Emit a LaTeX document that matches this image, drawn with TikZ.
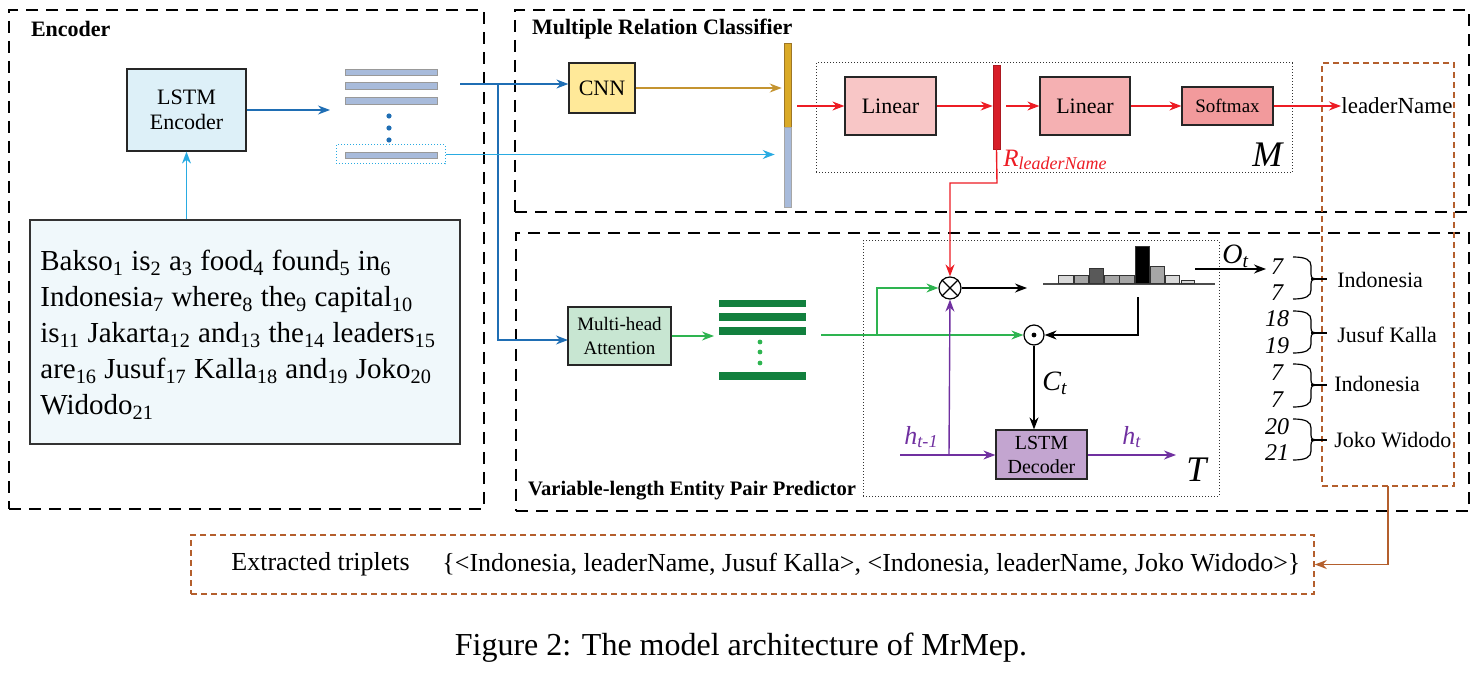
\documentclass[tikz,border=0pt]{standalone}
\usepackage{fontspec}
\setmainfont{Liberation Serif}
\usetikzlibrary{arrows.meta,fit,calc}
\definecolor{dblue}{RGB}{31,110,180}
\definecolor{lblue}{RGB}{41,171,226}
\definecolor{gold}{RGB}{196,148,48}
\definecolor{goldbar}{RGB}{218,170,40}
\definecolor{barblue}{RGB}{168,187,219}
\definecolor{rred}{RGB}{237,28,36}
\definecolor{rbarc}{RGB}{215,30,40}
\definecolor{ggreen}{RGB}{46,180,80}
\definecolor{dgreen}{RGB}{18,128,62}
\definecolor{ppurple}{RGB}{112,48,160}
\definecolor{bbrown}{RGB}{180,95,45}
\definecolor{encfill}{RGB}{221,240,248}
\definecolor{sentfill}{RGB}{240,248,251}
\definecolor{cnnfill}{RGB}{255,233,153}
\definecolor{linAfill}{RGB}{248,198,198}
\definecolor{linBfill}{RGB}{245,176,178}
\definecolor{smfill}{RGB}{242,154,156}
\definecolor{mhafill}{RGB}{200,230,210}
\definecolor{decfill}{RGB}{195,165,208}
\newcommand{\myfs}[2]{\fontsize{#1}{#2}\selectfont}
\newcommand{\ebrace}[3]{%
  \draw[line width=0.6pt] (1293,#1) .. controls (1306,#1) and (1311,{#1+3}) .. (1311,{#1+9})
    -- (1311,{#2-5}) .. controls (1311,{#2-1}) and (1313,#2) .. (1316,#2)
    .. controls (1313,#2) and (1311,{#2+1}) .. (1311,{#2+5})
    -- (1311,{#3-9}) .. controls (1311,{#3-3}) and (1306,#3) .. (1293,#3);
  \draw[line width=0.6pt] (1311,#2) -- (1327,#2);
}
\tikzset{
  frame/.style={draw=black, line width=1.4pt, dash pattern=on 6pt off 4pt, inner sep=0pt},
  title/.style={anchor=west, font=\bfseries\myfs{11}{13}},
  blk/.style={draw=black!85, line width=0.6pt, inner sep=0pt, align=center, font=\myfs{11}{12.5}},
  arr/.style={-{Stealth[length=6pt,width=4.5pt]}, line width=0.7pt},
  ebar/.style={fill=barblue, draw=gray!80, line width=0.4pt, inner sep=0pt},
  gbar/.style={fill=dgreen, draw=dgreen, line width=0.3pt, inner sep=0pt},
  num/.style={font=\itshape\myfs{12}{14}, inner sep=0pt},
  ent/.style={anchor=west, font=\myfs{11}{13}, inner sep=0pt},
}
\begin{document}
\begin{tikzpicture}[x=0.5pt,y=-0.5pt]
\useasboundingbox (0,0) rectangle (1474,674);

% frames
\node[frame, fit={(9,10)(484,509)}] (encF) {};
\node[frame, fit={(515,10)(1469,212)}] (mrcF) {};
\node[frame, fit={(516,233)(1469,511)}] (vepF) {};
\node[title] (encT) at (24,29) {Encoder};
\node[title] (mrcT) at (525,29) {Multiple Relation Classifier};
\node[title, font=\bfseries\myfs{10.3}{12}] (vepT) at (521,491) {Variable-length Entity Pair Predictor};

% inner dotted boxes
\node[draw=black!80, densely dotted, line width=0.5pt, fit={(816,63)(1292,173)}, inner sep=0pt] (Mbox) {};
\node[draw=black!80, densely dotted, line width=0.5pt, fit={(863,241)(1219,496)}, inner sep=0pt] (Tbox) {};
\node[draw=bbrown, line width=0.8pt, dash pattern=on 3pt off 2pt, fit={(1322,63)(1454,486)}, inner sep=0pt] (outbox) {};

% Encoder
\node[blk, fill=encfill, minimum width=59.5pt, minimum height=41pt] (lstmenc) at (186.5,110) {LSTM\\Encoder};
\node[draw=black!80, line width=0.6pt, fill=sentfill, fit={(30,220)(460,444)}, inner sep=0pt] (sent) {};
\node[anchor=north west, align=left, font=\myfs{14.5}{18}, inner sep=0pt] (senttext) at (40,250)
 {Bakso\textsubscript{1} is\textsubscript{2} a\textsubscript{3} food\textsubscript{4} found\textsubscript{5} in\textsubscript{6}\\
  Indonesia\textsubscript{7} where\textsubscript{8} the\textsubscript{9} capital\textsubscript{10}\\
  is\textsubscript{11} Jakarta\textsubscript{12} and\textsubscript{13} the\textsubscript{14} leaders\textsubscript{15}\\
  are\textsubscript{16} Jusuf\textsubscript{17} Kalla\textsubscript{18} and\textsubscript{19} Joko\textsubscript{20}\\
  Widodo\textsubscript{21}};
\node[ebar, fit={(345,69)(437,75)}] (eA) {};
\node[ebar, fit={(345,82)(437,89)}] (eB) {};
\node[ebar, fit={(345,97)(437,104)}] (eC) {};
\fill[dblue] (389,116) circle (1.3pt) (389,128) circle (1.3pt) (389,140) circle (1.3pt);
\node[ebar, fit={(345,152)(437,158)}] (eD) {};
\node[draw=lblue, densely dotted, line width=0.5pt, fit={(336,145)(445,164)}, inner sep=0pt] (elast) {};
\coordinate (stackin) at (330,110);
\draw[arr, dblue] (lstmenc.east) -- (stackin);
\draw[arr, lblue] (lstmenc.south |- sent.north) -- (lstmenc.south);

% Multiple relation classifier
\node[blk, fill=cnnfill, minimum width=33pt, minimum height=25pt] (cnn) at (602,88) {CNN};
\node[fill=goldbar, draw=gold!80!black, line width=0.3pt, fit={(784,43)(791,127)}, inner sep=0pt] (cbarA) {};
\node[fill=barblue, draw=gray!70, line width=0.3pt, fit={(784,127)(791,207)}, inner sep=0pt] (cbarB) {};
\node[blk, fill=linAfill, minimum width=45.5pt, minimum height=29pt] (linA) at (890.5,106) {Linear};
\node[fill=rbarc, draw=rbarc!80!black, line width=0.3pt, fit={(993,65)(1000,149)}, inner sep=0pt] (rbar) {};
\node[blk, fill=linBfill, minimum width=45pt, minimum height=29pt] (linB) at (1085,106) {Linear};
\node[blk, fill=smfill, minimum width=45.5pt, minimum height=19pt, font=\myfs{9.5}{11}] (soft) at (1227.5,106) {Softmax};
\node[ent, font=\myfs{11.5}{13}] (lname) at (1341,106) {leaderName};
\node[anchor=west, inner sep=0pt, text=rred, font=\itshape\myfs{12.5}{14}] (rlab) at (1003,160) {R\raisebox{-0.3ex}{\myfs{9}{10}leaderName}};
\node[anchor=west, inner sep=0pt, font=\itshape\myfs{18}{20}] (Mlab) at (1252,155) {M};

\coordinate (so) at (460,84);
\coordinate (br) at (498,84);
\draw[arr, dblue] (so) -- (so -| cnn.west);
\draw[arr, dblue] (br) |- (568,340);
\draw[arr, lblue] (elast.east) -- ([xshift=-4.5pt]elast.east -| cbarB.west);
\draw[arr, gold] (cnn.east) -- ([xshift=-1pt]cnn.east -| cbarA.west);
\coordinate (cout) at (797,106);
\draw[arr, rred] (cout) -- (linA.west);
\draw[arr, rred] (linA.east) -- (linA.east -| rbar.west);
\coordinate (rout) at (1006,106);
\draw[arr, rred] (rout) -- (linB.west);
\draw[arr, rred] (linB.east) -- (soft.west);
\draw[arr, rred] (soft.east) -- (lname.west);

% Variable-length entity pair predictor
\node[blk, fill=mhafill, minimum width=51.5pt, minimum height=29pt, font=\myfs{9.5}{12}] (mha) at (619.5,336) {Multi-head\\Attention};
\node[gbar, fit={(719,300)(805,306)}] (gA) {};
\node[gbar, fit={(719,313)(805,320)}] (gB) {};
\node[gbar, fit={(719,327)(805,334)}] (gC) {};
\fill[ggreen] (760,342) circle (1.2pt) (760,352) circle (1.2pt) (760,363) circle (1.2pt);
\node[gbar, fit={(719,372)(805,379)}] (gD) {};
\coordinate (gin) at (714,336);
\draw[arr, ggreen] (mha.east) -- (gin);

\node[draw, circle, line width=0.6pt, minimum size=11pt, inner sep=0pt] (otimes) at (950,288) {};
\draw[line width=0.6pt] (otimes.north west) -- (otimes.south east) (otimes.north east) -- (otimes.south west);
\node[draw, circle, line width=0.6pt, minimum size=10pt, inner sep=0pt] (odot) at (1034,335) {};
\fill (odot.center) circle (1.2pt);

\coordinate (gout) at (821,335);
\coordinate (gbr) at (877,335);
\draw[arr, ggreen] (gout) -- (odot.west);
\draw[arr, ggreen] (gbr) |- (otimes.west);
\draw[arr, rred] (rbar.south) -- (997,183) -| (otimes.north);

% histogram
\coordinate (hin) at (1027,288);
\draw[arr] (otimes.east) -- (hin);
\draw[line width=0.6pt, black!70] (1043,284) -- (1215,284);
\begin{scope}[line width=0.5pt, draw=black!80]
\filldraw[fill=black!15] (1058,283) rectangle (1073,275);
\filldraw[fill=black!35] (1074,283) rectangle (1088,275);
\filldraw[fill=black!65] (1089,283) rectangle (1103,268);
\filldraw[fill=black!35] (1104,283) rectangle (1119,275);
\filldraw[fill=black!35] (1119,283) rectangle (1134,275);
\filldraw[fill=black] (1135,283) rectangle (1149,246);
\filldraw[fill=black!35] (1150,283) rectangle (1164,266);
\filldraw[fill=black!15] (1165,283) rectangle (1179,275);
\filldraw[fill=black!15] (1181,283) rectangle (1194,280);
\end{scope}
\coordinate (hout) at (1138,297);
\draw[arr] (hout) |- (odot.east);
\coordinate (oin) at (1195,269);
\coordinate (oend) at (1266,269);
\draw[arr] (oin) -- (oend);
\node[anchor=west, inner sep=0pt, font=\itshape\myfs{14}{16}] (olab) at (1222,256) {O\textsubscript{t}};

\node[blk, fill=decfill, minimum width=45.5pt, minimum height=24.5pt, font=\myfs{10}{12}] (dec) at (1041.5,454.5) {LSTM\\Decoder};
\draw[arr] (odot.south) -- (odot.south |- dec.north);
\node[anchor=west, inner sep=0pt, font=\itshape\myfs{14}{16}] (clab) at (1042,383) {C\textsubscript{t}};
\coordinate (hprev) at (900,455);
\coordinate (hbr) at (949,455);
\draw[arr, ppurple] (hprev) -- (hprev -| dec.west);
\draw[arr, ppurple] (hbr) -- (otimes.south);
\coordinate (hnext) at (1176,455);
\draw[arr, ppurple] (dec.east |- hnext) -- (hnext);
\node[anchor=west, inner sep=0pt, text=ppurple, font=\itshape\myfs{13}{15}] (hplab) at (904,437) {h\textsubscript{t-1}};
\node[anchor=west, inner sep=0pt, text=ppurple, font=\itshape\myfs{13}{15}] (hnlab) at (1122,437) {h\textsubscript{t}};
\node[anchor=west, inner sep=0pt, font=\itshape\myfs{18}{20}] (Tlab) at (1186,470) {T};

% entity positions
\node[num] (nA) at (1277,267) {7};
\node[num] (nB) at (1277,293) {7};
\node[num] (nC) at (1277,319) {18};
\node[num] (nD) at (1277,346) {19};
\node[num] (nE) at (1277,373) {7};
\node[num] (nF) at (1277,400) {7};
\node[num] (nG) at (1277,427) {20};
\node[num] (nH) at (1277,453) {21};
\ebrace{257}{279}{299}
\ebrace{311}{333}{353}
\ebrace{364}{385}{407}
\ebrace{419}{440}{460}
\node[ent] (entA) at (1337,280) {Indonesia};
\node[ent] (entB) at (1337,335) {Jusuf Kalla};
\node[ent] (entC) at (1334,384) {Indonesia};
\node[ent] (entD) at (1334,440) {Joko Widodo};

% extracted triplets
\node[draw=bbrown, line width=0.8pt, dash pattern=on 3pt off 2pt, fit={(191,535)(1314,594)}, inner sep=0pt] (ext) {};
\node[anchor=west, inner sep=0pt, font=\myfs{13}{15}] (extT) at (231,564) {Extracted triplets};
\node[anchor=west, inner sep=0pt, font=\myfs{13}{15}] (extV) at (442,564) {\{<Indonesia, leaderName, Jusuf Kalla>, <Indonesia, leaderName, Joko Widodo>\}};
\draw[arr, bbrown] (1388,486) |- (ext.east);

\node[font=\myfs{16}{18}, inner sep=0pt] (cap) at (741,648) {Figure 2: The model architecture of MrMep.};
\end{tikzpicture}
\end{document}
